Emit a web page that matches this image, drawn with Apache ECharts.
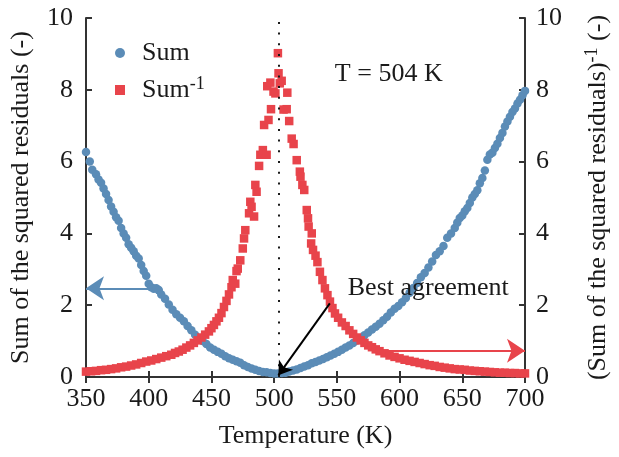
<!DOCTYPE html>
<html><head><meta charset="utf-8">
<script src="https://cdn.jsdelivr.net/npm/echarts@6/dist/echarts.min.js"></script>
<style>html,body{margin:0;padding:0;background:#fff}#c{width:619px;height:457px}</style>
</head><body><div id="c"></div>
<script>
// ---- data ----
const xTicks = [350, 400, 450, 500, 550, 600, 650, 700];
const yTicks = [0, 2, 4, 6, 8, 10];

const sumT = [350,353,355,358,360,362,364,366,368,370,372,374,376,378,380,382,384,386,388,390,392,394,396,398,400,402,404,406,408,410,413,416,419,422,425,428,431,434,437,440,443,446,449,452,455,458,461,464,467,470,473,476,479,482,485,488,491,494,497,500,503,506,509,512,515,518,521,524,527,530,533,536,539,542,545,548,551,554,557,560,563,566,569,572,575,578,581,584,587,590,593,596,599,602,605,608,611,614,617,620,623,626,629,632,635,638,641,644,646,648,650,652,654,656,658,660,662,664,666,668,670,672,674,676,678,680,682,684,686,688,690,692,694,696,698,700];
const sumV = [6.27,6.0,5.77,5.65,5.5,5.41,5.25,5.1,4.93,4.75,4.6,4.45,4.35,4.15,4.0,3.88,3.7,3.6,3.5,3.38,3.3,3.12,2.95,2.82,2.6,2.5,2.46,2.47,2.42,2.3,2.18,2.02,1.87,1.75,1.65,1.55,1.42,1.3,1.18,1.08,1.0,0.92,0.82,0.76,0.7,0.65,0.58,0.52,0.48,0.44,0.4,0.33,0.28,0.24,0.2,0.17,0.14,0.13,0.11,0.1,0.1,0.11,0.12,0.15,0.18,0.21,0.25,0.29,0.33,0.38,0.42,0.46,0.5,0.55,0.6,0.65,0.7,0.76,0.82,0.88,0.95,1.02,1.08,1.16,1.24,1.32,1.4,1.48,1.58,1.68,1.8,1.9,1.98,2.08,2.2,2.35,2.48,2.62,2.78,2.9,3.05,3.22,3.4,3.5,3.65,3.88,4.0,4.15,4.3,4.43,4.5,4.62,4.71,4.85,5.0,5.1,5.2,5.4,5.54,5.75,6.05,6.2,6.25,6.38,6.5,6.66,6.8,6.98,7.12,7.25,7.38,7.48,7.62,7.72,7.85,7.97];

const invT = [350,354,358,362,366,370,374,378,382,386,390,394,398,402,406,410,414,418,421,424,427,430,433,436,439,442,445,448,450,452,454,456,458,460,462,464,466,467,469,470,471,473,475,476,477,480,481,482,484,485,486,488,489,491,492,494,494.5,495.5,497,497.5,499.5,501,503,503.5,504.5,506,507.5,510,510.5,512,514,515.5,518,520.5,521,522.5,524,526,527,527.5,530,529.5,531,533,534.5,536.5,538.5,540.5,542.5,544.5,546.5,548.5,551,554,557,560,563,566,569,572,575,578,581,584,588,592,596,600,604,608,612,616,620,624,628,632,636,640,644,648,652,656,660,664,668,672,676,680,684,688,692,696,700];
const invV = [0.15,0.16,0.17,0.19,0.2,0.22,0.24,0.27,0.29,0.32,0.35,0.39,0.43,0.46,0.5,0.54,0.58,0.62,0.67,0.71,0.76,0.82,0.88,0.95,1.02,1.1,1.18,1.27,1.36,1.45,1.55,1.65,1.78,1.95,2.12,2.3,2.5,2.7,2.6,2.95,3.02,3.25,3.58,3.86,4.09,4.56,4.88,4.74,4.47,5.35,5.16,5.88,6.19,6.32,7.02,6.19,8.1,7.16,8.2,7.46,7.95,7.9,9.02,8.46,8.18,8.25,7.45,7.46,7.92,7.13,6.64,6.49,6.04,5.72,5.58,5.35,5.21,4.65,4.42,4.19,4.0,3.72,3.54,3.38,3.2,2.93,2.7,2.47,2.28,2.1,1.92,1.77,1.65,1.52,1.42,1.3,1.2,1.1,1.02,0.95,0.88,0.83,0.77,0.72,0.66,0.6,0.56,0.52,0.48,0.45,0.42,0.39,0.36,0.33,0.31,0.28,0.26,0.24,0.22,0.21,0.2,0.18,0.17,0.16,0.15,0.14,0.13,0.12,0.12,0.11,0.11,0.1,0.1];

const bestT = 504;
const annotations = [[548.4, 8.44, 'T = 504 K'], [558.7, 2.48, 'Best agreement']];
const blueArrow = [[400, 2.47], [350, 2.47]];
const redArrow = [[584, 0.73], [700, 0.73]];
const blackArrow = [[544.4, 2.05], [503.4, 0.05]];

const BLUE = '#5b8cb7', RED = '#e8444b', INK = '#1a1a1a';
const FONT = 'Liberation Serif';

const chart = echarts.init(document.getElementById('c'), null, {renderer: 'canvas'});
const axisLine = {show: true, lineStyle: {color: '#333', width: 2}};
const axisTick = {show: true, inside: true, length: 6, lineStyle: {color: '#333', width: 2}};
const lbl = {fontFamily: FONT, fontSize: 26, color: INK};

function arrow(pts, color, size) {
  return [
    {coord: pts[0], symbol: 'none', lineStyle: {color: color, width: 2, type: 'solid'}},
    {coord: pts[1], symbol: 'arrow', symbolSize: size}
  ];
}

chart.setOption({
  animation: false,
  grid: {left: 85, right: 93, top: 18, bottom: 80},
  legend: {
    orient: 'vertical', left: 110, top: 35, itemGap: 9,
    itemWidth: 10, itemHeight: 10,
    data: [{name: 'Sum', icon: 'circle'}, {name: 'Sum-1', icon: 'rect'}],
    formatter: n => n === 'Sum' ? '{m|Sum}' : '{m|Sum}{s|-1}',
    textStyle: {padding: [0, 0, 0, 12], rich: {
      m: {fontFamily: FONT, fontSize: 26, color: INK, lineHeight: 30},
      s: {fontFamily: FONT, fontSize: 18, color: INK, lineHeight: 18, verticalAlign: 'top'}
    }}
  },
  xAxis: [{
    type: 'value', min: xTicks[0], max: xTicks[xTicks.length - 1], interval: 50,
    name: 'Temperature (K)', nameLocation: 'middle', nameGap: 46,
    nameTextStyle: lbl, axisLine, axisTick, splitLine: {show: false},
    axisLabel: Object.assign({margin: 9}, lbl)
  }, {
    type: 'value', position: 'top', min: xTicks[0], max: xTicks[xTicks.length - 1], interval: 50,
    axisLine, axisTick, axisLabel: {show: false}, splitLine: {show: false}
  }],
  yAxis: [{
    type: 'value', min: yTicks[0], max: yTicks[yTicks.length - 1], interval: 2,
    name: 'Sum of the squared residuals (-)', nameLocation: 'middle', nameRotate: 90, nameGap: 52,
    nameTextStyle: lbl, axisLine, axisTick, splitLine: {show: false},
    axisLabel: Object.assign({margin: 13}, lbl)
  }, {
    type: 'value', position: 'right', min: yTicks[0], max: yTicks[yTicks.length - 1], interval: 2,
    name: '{m|(Sum of the squared residuals)}{s|-1}{m| (-)}', nameLocation: 'middle', nameRotate: 90, nameGap: 58,
    nameTextStyle: {rich: {
      m: {fontFamily: FONT, fontSize: 26, color: INK, lineHeight: 30},
      s: {fontFamily: FONT, fontSize: 18, color: INK, lineHeight: 18, verticalAlign: 'top'}
    }},
    axisLine, axisTick, splitLine: {show: false},
    axisLabel: Object.assign({margin: 11}, lbl)
  }],
  series: [{
    name: 'Sum', type: 'scatter', symbol: 'circle', symbolSize: 8.5,
    itemStyle: {color: BLUE, opacity: 1},
    data: sumT.map((t, i) => [t, sumV[i]]),
    markLine: {silent: true, label: {show: false}, data: [arrow(blueArrow, BLUE, 18)]}
  }, {
    name: 'Sum-1', type: 'scatter', yAxisIndex: 1, symbol: 'rect', symbolSize: 8.5,
    itemStyle: {color: RED, opacity: 1},
    data: invT.map((t, i) => [t, invV[i]]),
    markLine: {silent: true, label: {show: false}, data: [arrow(redArrow, RED, 18)]}
  }, {
    name: 'annot', type: 'scatter', symbolSize: 0, z: 5,
    itemStyle: {opacity: 1},
    data: annotations,
    label: {show: true, position: 'right', distance: 0, formatter: p => p.value[2],
      fontFamily: FONT, fontSize: 26, color: INK, opacity: 1},
    markLine: {
      silent: true, symbol: ['none', 'none'], label: {show: false},
      data: [
        {xAxis: bestT, lineStyle: {color: INK, width: 2, type: [2, 8.7]}},
        arrow(blackArrow, '#000', 13)
      ]
    }
  }]
});
</script></body></html>
